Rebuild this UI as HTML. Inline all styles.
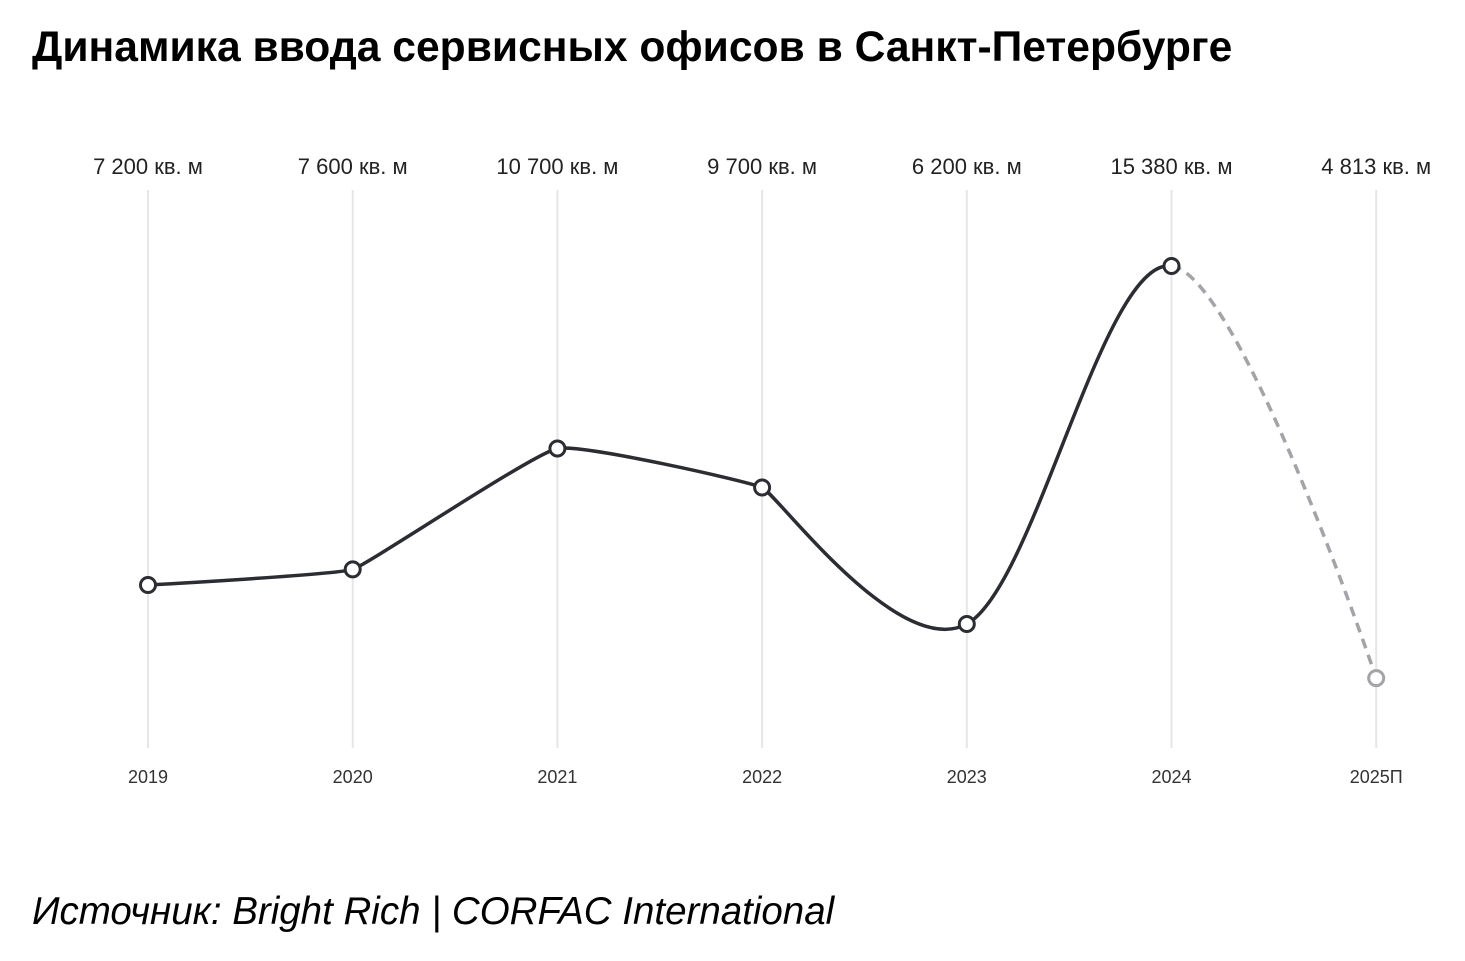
<!DOCTYPE html>
<html><head><meta charset="utf-8"><style>
html,body{margin:0;padding:0;background:#fff;}
body{width:1465px;height:961px;position:relative;overflow:hidden;font-family:"Liberation Sans",sans-serif;}
#title{position:absolute;left:32px;top:23px;font-size:42.6px;font-weight:bold;color:#000;margin:0;white-space:nowrap;}
#source{position:absolute;left:32px;top:890px;font-size:38.5px;font-style:italic;color:#000;white-space:nowrap;}
svg{position:absolute;left:0;top:0;}
</style></head><body>
<h1 id="title">Динамика ввода сервисных офисов в Санкт-Петербурге</h1>
<div id="source">Источник: Bright Rich | CORFAC International</div>
<svg id="chart" width="1465" height="961"></svg>
<script>
const categories=["2019","2020","2021","2022","2023","2024","2025П"];
const values=[7200,7600,10700,9700,6200,15380,4813];
const valueLabels=["7 200 кв. м","7 600 кв. м","10 700 кв. м","9 700 кв. м","6 200 кв. м","15 380 кв. м","4 813 кв. м"];
const forecastFrom=5;

const NS="http://www.w3.org/2000/svg";
const svg=document.getElementById('chart');
function x(i){return 148+i*204.7;}
function y(v){return 585-(v-7200)*0.039;}
function mk(tag,attrs){const e=document.createElementNS(NS,tag);for(const k in attrs)e.setAttribute(k,attrs[k]);svg.appendChild(e);return e;}

categories.forEach((c,i)=>{
  const g=mk('line',{x1:x(i),x2:x(i),y1:190,y2:748,stroke:'#e6e6e6','stroke-width':2});
  
  
  const t=mk('text',{x:x(i),y:783,'text-anchor':'middle','font-size':18,fill:'#333','font-family':'Liberation Sans, sans-serif'});
  t.textContent=c;
  
  
  const v=mk('text',{x:x(i),y:174,'text-anchor':'middle','font-size':22,fill:'#222','font-family':'Liberation Sans, sans-serif'});
  v.textContent=valueLabels[i];
  
  
});

const pts=values.map((v,i)=>[x(i),y(v)]);
const n=pts.length;
// tangent strength: larger when the slope changes sharply
function tangent(i){
  if(i===0||i===n-1)return [0,0];
  const sIn=(pts[i][1]-pts[i-1][1])/(pts[i][0]-pts[i-1][0]);
  const sOut=(pts[i+1][1]-pts[i][1])/(pts[i+1][0]-pts[i][0]);
  const f=Math.min(1,Math.abs(sIn-sOut)/2.2);
  const k=f/6;
  return [(pts[i+1][0]-pts[i-1][0])*k,(pts[i+1][1]-pts[i-1][1])*k];
}
function seg(i){
  const t1=tangent(i),t2=tangent(i+1),p1=pts[i],p2=pts[i+1];
  return `C${p1[0]+t1[0]},${p1[1]+t1[1]} ${p2[0]-t2[0]},${p2[1]-t2[1]} ${p2[0]},${p2[1]}`;
}
let d=`M${pts[0][0]},${pts[0][1]}`;
for(let i=0;i<forecastFrom;i++)d+=seg(i);
const line=mk('path',{d:d,fill:'none',stroke:'#2b2d33','stroke-width':3.5});


let d2=`M${pts[forecastFrom][0]},${pts[forecastFrom][1]}`;
for(let i=forecastFrom;i<n-1;i++)d2+=seg(i);
const fl=mk('path',{d:d2,fill:'none',stroke:'#a3a3a8','stroke-width':3.5,'stroke-dasharray':'10 7'});



pts.forEach((p,i)=>{
  const f=i>forecastFrom;
  const c=mk('circle',{cx:p[0],cy:p[1],r:7.5,fill:'#fff',stroke:f?'#a3a3a8':'#2b2d33','stroke-width':3});
  
  
});
</script>
</body></html>
